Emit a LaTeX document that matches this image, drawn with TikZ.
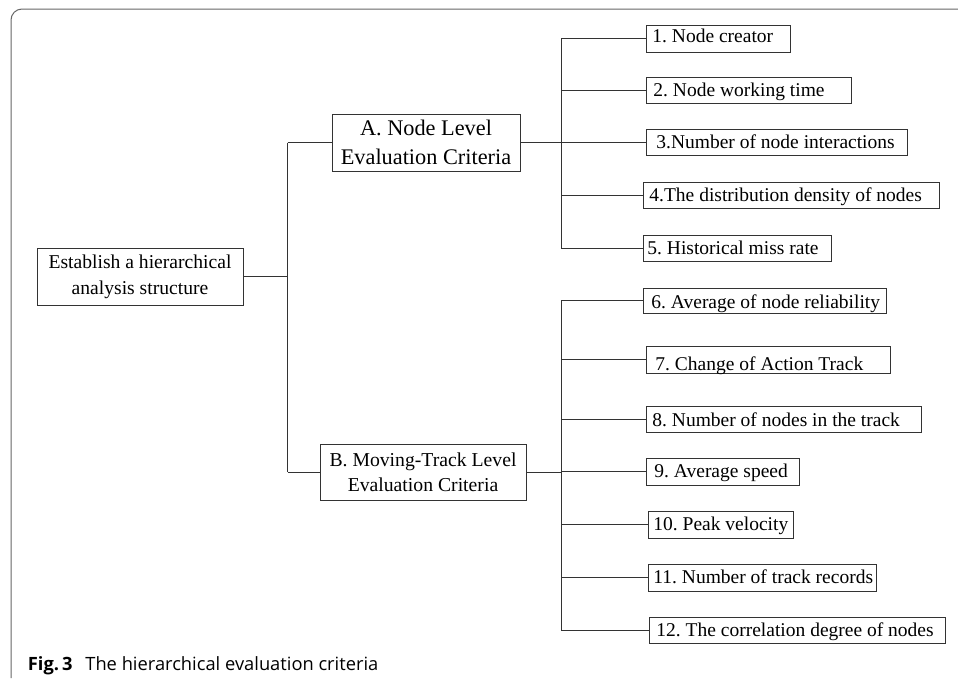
\documentclass[tikz,border=0pt]{standalone}
\usepackage{fontspec}
\setmainfont{Liberation Serif}
\newfontfamily\capsans{Open Sans}
\frenchspacing
\definecolor{linec}{gray}{0.2}
\definecolor{framec}{gray}{0.4}
\newcommand{\lft}[2]{\makebox[#1][l]{#2}}
\tikzset{
  box/.style={draw=linec, line width=0.9pt, inner ysep=0pt, align=center},
  leaf/.style={draw=linec, line width=0.9pt, inner ysep=0pt, anchor=west,
    text height=14pt, text depth=2pt,
    font=\fontsize{19.5}{24}\selectfont},
  conn/.style={draw=linec, line width=0.9pt},
}
\begin{document}
\begin{tikzpicture}[x=1pt,y=-1pt]
\useasboundingbox (0,0) rectangle (958,678);
% frame
\draw[framec, line width=1pt, rounded corners=11pt] (11,678) -- (11,9) -- (958,9);
% root and level-1 nodes
\node[box, minimum width=206pt, minimum height=57pt, font=\fontsize{19.6}{26}\selectfont] (root) at (140,276.5) {Establish a hierarchical\\analysis structure};
\node[box, minimum width=188pt, minimum height=57pt, font=\fontsize{22.3}{29}\selectfont] (A) at (426,142.5) {A. Node Level\\Evaluation Criteria};
\node[box, minimum width=206pt, minimum height=56pt, font=\fontsize{19.7}{25}\selectfont] (B) at (423,472) {B. Moving-Track Level\\Evaluation Criteria};
% leaves A
\node[leaf, minimum height=27pt, inner xsep=6pt, text height=12pt, text depth=4pt] (l1) at (646,38.5) {\lft{132pt}{1. Node creator}};
\node[leaf, minimum height=26pt, inner xsep=7pt] (l2) at (646,90) {\lft{191pt}{2. Node working time}};
\node[leaf, minimum height=26pt, inner xsep=10pt] (l3) at (646,142) {\lft{241pt}{3.Number of node interactions}};
\node[leaf, minimum height=26pt, inner xsep=6pt] (l4) at (643,195) {\lft{284pt}{4.The distribution density of nodes}};
\node[leaf, minimum height=26pt, inner xsep=4pt] (l5) at (643,248) {\lft{180pt}{5. Historical miss rate}};
% leaves B
\node[leaf, minimum height=25pt, inner xsep=8pt, text height=16pt, text depth=0pt] (l6) at (643,300.5) {\lft{227pt}{6. Average of node reliability}};
\node[leaf, minimum height=27pt, inner xsep=9pt, text height=22pt, text depth=0pt] (l7) at (646,359.5) {\lft{226pt}{7. Change of Action Track}};
\node[leaf, minimum height=26pt, inner xsep=6pt, text height=15pt, text depth=1pt] (l8) at (646,419) {\lft{263pt}{8. Number of nodes in the track}};
\node[leaf, minimum height=27pt, inner xsep=8pt] (l9) at (646,471.5) {\lft{137pt}{9. Average speed}};
\node[leaf, minimum height=27pt, inner xsep=5pt] (l10) at (648,524.5) {\lft{135pt}{10. Peak velocity}};
\node[leaf, minimum height=27pt, inner xsep=5pt] (l11) at (648,577.5) {\lft{218pt}{11. Number of track records}};
\node[leaf, minimum height=26pt, inner xsep=7pt, text height=15pt, text depth=2pt] (l12) at (649,630) {\lft{282pt}{12. The correlation degree of nodes}};
% trunk coordinates
\coordinate (tr) at (287.5,0);
\coordinate (ta) at (561,0);
% connectors
\draw[conn] (root.east) -- (root.east -| tr);
\draw[conn] (tr |- A.west) -- (tr |- B.west);
\draw[conn] (tr |- A.west) -- (A.west);
\draw[conn] (tr |- B.west) -- (B.west);
\draw[conn] (A.east) -- (A.east -| ta);
\draw[conn] (B.east) -- (B.east -| ta);
\draw[conn] (ta |- l1.west) -- (ta |- l5.west);
\draw[conn] (ta |- l6.west) -- (ta |- l12.west);
\foreach \i in {1,...,12} {
  \draw[conn] (ta |- l\i.west) -- (l\i.west);
}
% caption
\node[anchor=base west, inner sep=0pt, font=\capsans\fontsize{18.3}{21}\selectfont] (cap) at (27.7,670) {\textbf{Fig.\,3}\hspace{0.7em}The hierarchical evaluation criteria};
\end{tikzpicture}
\end{document}
